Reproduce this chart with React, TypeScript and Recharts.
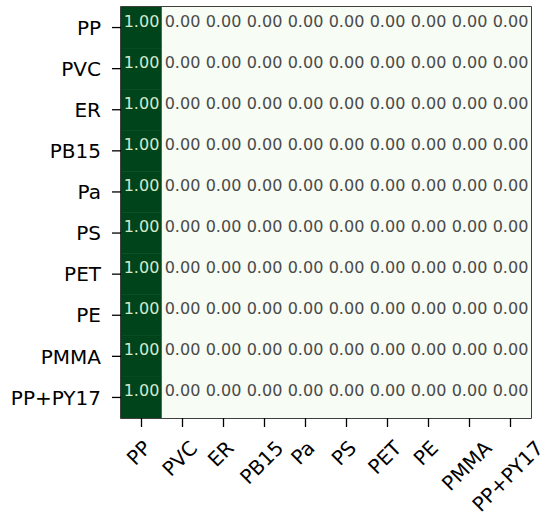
import React from "react";
import {
  ScatterChart,
  Scatter,
  XAxis,
  YAxis,
  ReferenceArea,
} from "recharts";

// class names, same order on both axes
const classes = ["PP", "PVC", "ER", "PB15", "Pa", "PS", "PET", "PE", "PMMA", "PP+PY17"];

// normalised confusion matrix, rows = true class, cols = predicted
const rowPP = [1.0, 0, 0, 0, 0, 0, 0, 0, 0, 0];
const rowPVC = [1.0, 0, 0, 0, 0, 0, 0, 0, 0, 0];
const rowER = [1.0, 0, 0, 0, 0, 0, 0, 0, 0, 0];
const rowPB15 = [1.0, 0, 0, 0, 0, 0, 0, 0, 0, 0];
const rowPa = [1.0, 0, 0, 0, 0, 0, 0, 0, 0, 0];
const rowPS = [1.0, 0, 0, 0, 0, 0, 0, 0, 0, 0];
const rowPET = [1.0, 0, 0, 0, 0, 0, 0, 0, 0, 0];
const rowPE = [1.0, 0, 0, 0, 0, 0, 0, 0, 0, 0];
const rowPMMA = [1.0, 0, 0, 0, 0, 0, 0, 0, 0, 0];
const rowPPPY17 = [1.0, 0, 0, 0, 0, 0, 0, 0, 0, 0];

const matrix = [rowPP, rowPVC, rowER, rowPB15, rowPa, rowPS, rowPET, rowPE, rowPMMA, rowPPPY17];
const tickIdx = classes.map((_, i) => i);

const W = 550;
const H = 521;
const M = { top: 7, right: 19, bottom: 0, left: 0 };
const Y_W = 121;
const X_H = 103;
const CELL_W = (W - M.left - M.right - Y_W) / classes.length;
const CELL_H = (H - M.top - M.bottom - X_H) / classes.length;

const FONT = "'DejaVu Sans', sans-serif";
const LABEL_SIZE = 20;

const cells = matrix.flatMap((row, r) => row.map((v, c) => ({ x: c, y: r, v })));

// Greens colormap endpoints
const lo = [0xf7, 0xfc, 0xf5];
const hi = [0x00, 0x44, 0x1b];
function green(v: number) {
  const c = lo.map((l, i) => Math.round(l + (hi[i] - l) * v));
  return `rgb(${c[0]},${c[1]},${c[2]})`;
}

let ctx: CanvasRenderingContext2D | null = null;
function textWidth(s: string, size: number) {
  if (!ctx && typeof document !== "undefined") {
    ctx = document.createElement("canvas").getContext("2d");
  }
  if (ctx) {
    ctx.font = `${size}px 'DejaVu Sans'`;
    return ctx.measureText(s).width;
  }
  return s.length * size * 0.65;
}

const Cell = (props: any) => {
  const { cx, cy, payload } = props;
  const v = payload.v;
  return (
    <g>
      <rect
        x={cx - CELL_W / 2}
        y={cy - CELL_H / 2}
        width={CELL_W}
        height={CELL_H}
        fill={green(v)}
        stroke={green(v)}
        strokeWidth={0.5}
      />
      <text
        x={cx}
        y={cy - 1}
        textAnchor="middle"
        fontFamily={FONT}
        fontSize={16}
        fill={v > 0.5 ? "#d3e9d1" : "#4a4a4a"}
      >
        {v.toFixed(2)}
      </text>
    </g>
  );
};

const YTick = (props: any) => {
  const { x, y, payload } = props;
  return (
    <text
      x={x}
      y={y + LABEL_SIZE * 0.36}
      textAnchor="end"
      fontFamily={FONT}
      fontSize={LABEL_SIZE}
      fill="#000"
    >
      {classes[payload.value]}
    </text>
  );
};

const XTick = (props: any) => {
  const { x, y, payload } = props;
  const label = classes[payload.value];
  const w = textWidth(label, LABEL_SIZE);
  const capH = LABEL_SIZE * 0.73;
  // rotated bbox: centred under the tick, top just below it
  const cx = x - 3;
  const cy = y + 8 + ((w + capH) * 0.707) / 2;
  return (
    <g transform={`translate(${cx},${cy}) rotate(-45)`}>
      <text
        x={0}
        y={capH / 2}
        textAnchor="middle"
        fontFamily={FONT}
        fontSize={LABEL_SIZE}
        fill="#000"
      >
        {label}
      </text>
    </g>
  );
};

export default function App() {
  return (
    <div style={{ position: "absolute", left: 0, top: 0, background: "#fff" }}>
      <ScatterChart width={W} height={H} margin={M}>
        <XAxis
          type="number"
          dataKey="x"
          domain={[-0.5, 9.5]}
          ticks={tickIdx}
          interval={0}
          allowDataOverflow
          height={X_H}
          axisLine={false}
          tickSize={9}
          tickMargin={4}
          tickLine={{ stroke: "#000", strokeWidth: 1.3 }}
          tick={<XTick />}
        />
        <YAxis
          type="number"
          dataKey="y"
          domain={[-0.5, 9.5]}
          ticks={tickIdx}
          interval={0}
          reversed
          allowDataOverflow
          width={Y_W}
          axisLine={false}
          tickSize={9}
          tickMargin={11}
          tickLine={{ stroke: "#000", strokeWidth: 1.3 }}
          tick={<YTick />}
        />
        <Scatter data={cells} shape={<Cell />} isAnimationActive={false} />
        <ReferenceArea
          x1={-0.5}
          x2={9.5}
          y1={-0.5}
          y2={9.5}
          fill="none"
          stroke="#000"
          strokeWidth={1.5}
          ifOverflow="visible"
        />
      </ScatterChart>
    </div>
  );
}
